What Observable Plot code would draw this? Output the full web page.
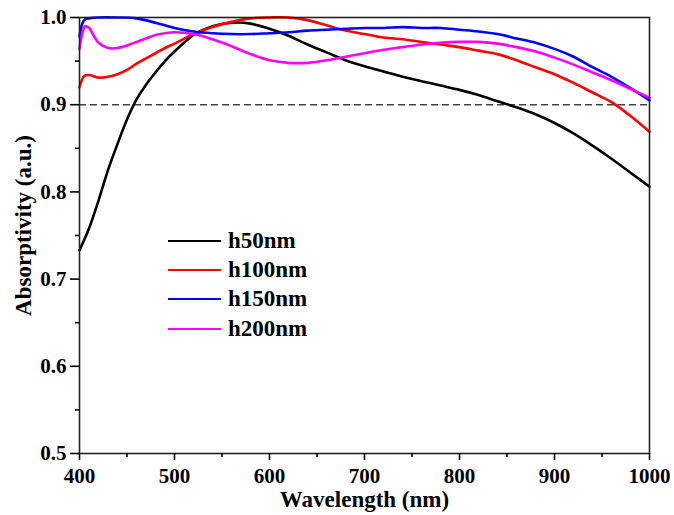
<!DOCTYPE html>
<html>
<head>
<meta charset="utf-8">
<script src="https://cdn.jsdelivr.net/npm/d3@7"></script>
<script src="https://cdn.jsdelivr.net/npm/@observablehq/plot@0.6"></script>
<style>
  html, body { margin: 0; padding: 0; background: #fff; }
  #wrap { position: relative; width: 674px; height: 515px; }
  #wrap svg { display: block; }
  #legend { position: absolute; left: 168px; top: 226px; font-family: "Liberation Serif", serif; font-weight: bold; font-size: 23px; }
  .row { display: flex; align-items: center; height: 29.3px; }
  .sw { width: 53px; height: 0; border-top: 2.5px solid #000; margin-right: 7px; }
</style>
</head>
<body>
<div id="wrap"><div id="legend"></div></div>
<script>
const seriesNames = ["h50nm", "h100nm", "h150nm", "h200nm"];
const seriesColors = ["#000000", "#ff0000", "#0000ff", "#ff00ff"];

const h50x = [400,410,420,430,440,450,460,470,480,490,500,510,520,540,560,580,600,620,640,660,680,700,720,740,760,780,800,820,840,860,880,900,920,940,960,980,1000];
const h50y = [0.733,0.758,0.790,0.825,0.855,0.883,0.906,0.923,0.937,0.950,0.961,0.971,0.980,0.990,0.994,0.993,0.987,0.979,0.969,0.960,0.951,0.944,0.938,0.932,0.927,0.922,0.917,0.911,0.904,0.897,0.889,0.879,0.867,0.853,0.838,0.822,0.806];

const h100x = [400,405,410,420,430,440,450,460,470,480,490,500,520,540,560,580,600,620,640,660,680,700,720,740,760,780,800,820,840,860,880,900,920,940,960,980,1000];
const h100y = [0.920,0.933,0.934,0.931,0.932,0.935,0.940,0.947,0.953,0.959,0.965,0.970,0.981,0.989,0.995,0.999,1.000,1.000,0.997,0.991,0.985,0.981,0.977,0.975,0.972,0.969,0.966,0.962,0.958,0.951,0.943,0.935,0.925,0.914,0.903,0.887,0.869];

const h150x = [400,403,406,410,420,440,460,480,500,520,540,560,580,600,620,640,660,680,700,720,740,760,780,800,820,840,860,880,900,920,940,960,980,1000];
const h150y = [0.978,0.993,0.998,0.999,1.000,1.000,0.999,0.994,0.988,0.984,0.982,0.981,0.981,0.982,0.983,0.985,0.986,0.987,0.988,0.988,0.989,0.988,0.988,0.986,0.984,0.981,0.976,0.971,0.964,0.955,0.943,0.932,0.919,0.905];

const h200x = [400,403,406,410,415,420,430,440,450,460,470,480,490,500,520,540,560,580,600,620,640,660,680,700,720,740,760,780,800,820,840,860,880,900,920,940,960,980,1000];
const h200y = [0.964,0.982,0.990,0.988,0.979,0.971,0.965,0.965,0.968,0.972,0.976,0.980,0.982,0.983,0.981,0.975,0.967,0.958,0.951,0.948,0.948,0.951,0.955,0.959,0.963,0.966,0.969,0.971,0.972,0.972,0.970,0.966,0.961,0.954,0.946,0.937,0.928,0.918,0.908];

const xTicks = [400,500,600,700,800,900,1000];
const xMinor = [450,550,650,750,850,950];
const yTicks = [0.5,0.6,0.7,0.8,0.9,1.0];
const yMinor = [0.55,0.65,0.75,0.85,0.95];
const threshold = [0.9];
const xTitle = "Wavelength (nm)";
const yTitle = "Absorptivity (a.u.)";

const xs = [h50x, h100x, h150x, h200x];
const ys = [h50y, h100y, h150y, h200y];
const data = [];
seriesNames.forEach((s, i) => xs[i].forEach((x, j) => data.push({series: s, x, y: ys[i][j]})));

const font = "Liberation Serif, Times New Roman, serif";

const chart = Plot.plot({
  width: 674,
  height: 515,
  marginLeft: 79,
  marginRight: 25,
  marginTop: 17,
  marginBottom: 62,
  style: {fontFamily: font, fontWeight: "bold", fontSize: "21px", background: "#fff", color: "#000"},
  x: {domain: [400, 1000]},
  y: {domain: [0.5, 1.0]},
  color: {domain: seriesNames, range: seriesColors},
  marks: [
    Plot.ruleY(threshold, {stroke: "#444", strokeWidth: 1.4, strokeDasharray: "7,4"}),
    Plot.line(data, {x: "x", y: "y", stroke: "series", z: "series", strokeWidth: 2.6, curve: "catmull-rom"}),
    Plot.frame({stroke: "#222", strokeWidth: 1.6}),
    Plot.axisX({ticks: xTicks, tickSize: 7, tickPadding: 8, tickFormat: d => String(d), label: null, fontSize: 21, fontWeight: "bold", strokeWidth: 1.6}),
    Plot.axisX({ticks: xMinor, tickSize: 4, tickFormat: () => "", label: null, strokeWidth: 1.6}),
    Plot.axisY({ticks: yTicks, tickSize: 9, tickPadding: 4, tickFormat: d3.format(".1f"), label: null, fontSize: 21, fontWeight: "bold", strokeWidth: 1.6}),
    Plot.axisY({ticks: yMinor, tickSize: 4, tickFormat: () => "", label: null, strokeWidth: 1.6}),
    Plot.text([xTitle], {text: d => d, frameAnchor: "bottom", lineAnchor: "middle", textAnchor: "middle", dy: 46, fontSize: 23, fontWeight: "bold"}),
    Plot.text([yTitle], {text: d => d, frameAnchor: "left", lineAnchor: "middle", textAnchor: "middle", dx: -56, dy: -10, rotate: -90, fontSize: 23, fontWeight: "bold"})
  ]
});

const wrap = document.getElementById("wrap");
wrap.insertBefore(chart, wrap.firstChild);

const legend = document.getElementById("legend");
seriesNames.forEach((s, i) => {
  const row = document.createElement("div");
  row.className = "row";
  const sw = document.createElement("div");
  sw.className = "sw";
  sw.style.borderTopColor = seriesColors[i];
  const t = document.createElement("span");
  t.textContent = s;
  row.appendChild(sw);
  row.appendChild(t);
  legend.appendChild(row);
});
</script>
</body>
</html>
